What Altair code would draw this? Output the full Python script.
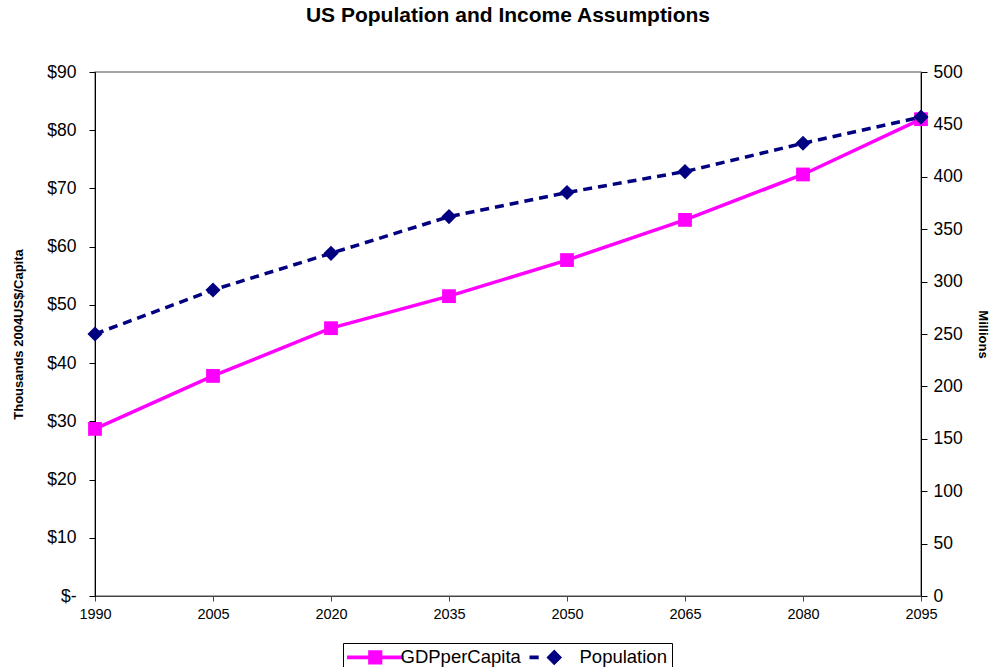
import altair as alt
import pandas as pd

years = [1990, 2005, 2020, 2035, 2050, 2065, 2080, 2095]
gdp = [28.7, 37.8, 46.0, 51.5, 57.7, 64.6, 72.4, 81.9]
population = [250, 292, 327, 362, 385, 405, 432, 457]
series = ["GDPperCapita", "Population"]

gdp_df = pd.DataFrame({"year": years, "value": gdp, "series": series[0]})
pop_df = pd.DataFrame({"year": years, "value": population, "series": series[1]})

FONT = "Liberation Sans"

x_enc = alt.X("year:Q", scale=alt.Scale(domain=[1990, 2095], nice=False, zero=False),
              axis=alt.Axis(values=years, format="d", title=None, labelFontSize=14.5,
                            labelColor="black", domainColor="#444", tickColor="#444",
                            grid=False, labelPadding=6, labelFlush=False))

color_scale = alt.Scale(domain=series, range=["#FF00FF", "#000080"])

GDP_SYM = "M-4,-0.25H4V0.25H-4Z M-1,-1H1V1H-1Z"
POP_SYM = "M-3.5,-0.28H-2.2V0.28H-3.5Z M0,-1.1L1.1,0L0,1.1L-1.1,0Z"

legend = alt.Legend(
    title=None, orient="none", legendX=248, legendY=571, direction="horizontal",
    strokeColor="black", fillColor="white", padding=5, labelFontSize=18.5,
    labelColor="black", symbolSize=200, columnPadding=6, labelFont=FONT,
    symbolStrokeWidth=0, symbolOffset=18, labelOffset=16,
    symbolType=alt.ExprRef(
        expr=f"datum.value === 'GDPperCapita' ? '{GDP_SYM}' : '{POP_SYM}'"),
)

gdp_axis = alt.Axis(title="Thousands 2004US$/Capita", titleFontSize=13, titleFontWeight="bold",
                    titleColor="black", labelFontSize=17.5, labelColor="black", grid=False,
                    values=list(range(0, 91, 10)),
                    labelExpr="datum.value == 0 ? '$-' : '$' + datum.value",
                    domainColor="black", tickColor="black", tickSize=6, labelPadding=13,
                    titlePadding=21)
pop_axis = alt.Axis(title="Millions", titleFontSize=13, titleFontWeight="bold",
                    titleColor="black", labelFontSize=17.5, labelColor="black", grid=False,
                    values=list(range(0, 501, 50)), orient="right",
                    domainColor="black", tickColor="black", tickSize=6, labelPadding=6,
                    titlePadding=13)

gdp_y = alt.Y("value:Q", scale=alt.Scale(domain=[0, 90], nice=False), axis=gdp_axis)
pop_y = alt.Y("value:Q", scale=alt.Scale(domain=[0, 500], nice=False), axis=pop_axis)

gdp_line = alt.Chart(gdp_df).mark_line(strokeWidth=3.5, color="#FF00FF").encode(x=x_enc, y=gdp_y)
gdp_pts = alt.Chart(gdp_df).mark_point(filled=True, size=190, opacity=1, shape="square").encode(
    x=x_enc, y=gdp_y,
    color=alt.Color("series:N", scale=color_scale, legend=legend))

pop_line = alt.Chart(pop_df).mark_line(strokeWidth=3.5, strokeDash=[9, 6], color="#000080").encode(
    x=x_enc, y=pop_y)
pop_pts = alt.Chart(pop_df).mark_point(filled=True, size=230, opacity=1, shape="diamond").encode(
    x=x_enc, y=pop_y,
    color=alt.Color("series:N", scale=color_scale, legend=legend))

left = alt.layer(gdp_line, gdp_pts)
right = alt.layer(pop_line, pop_pts)

chart = alt.layer(left, right).resolve_scale(y="independent").properties(
    width=826, height=524,
    title=alt.TitleParams("US Population and Income Assumptions", fontSize=21,
                          fontWeight="bold", font=FONT, color="black", offset=37),
    autosize=alt.AutoSizeParams(type="none"),
    padding={"left": 95, "top": 72, "right": 71, "bottom": 71},
).configure(font=FONT).configure_view(stroke="#888", strokeWidth=1.5).configure_axis(
    labelFont=FONT, titleFont=FONT)

chart.save("out.html", embed_options={"renderer": "svg", "actions": False})
